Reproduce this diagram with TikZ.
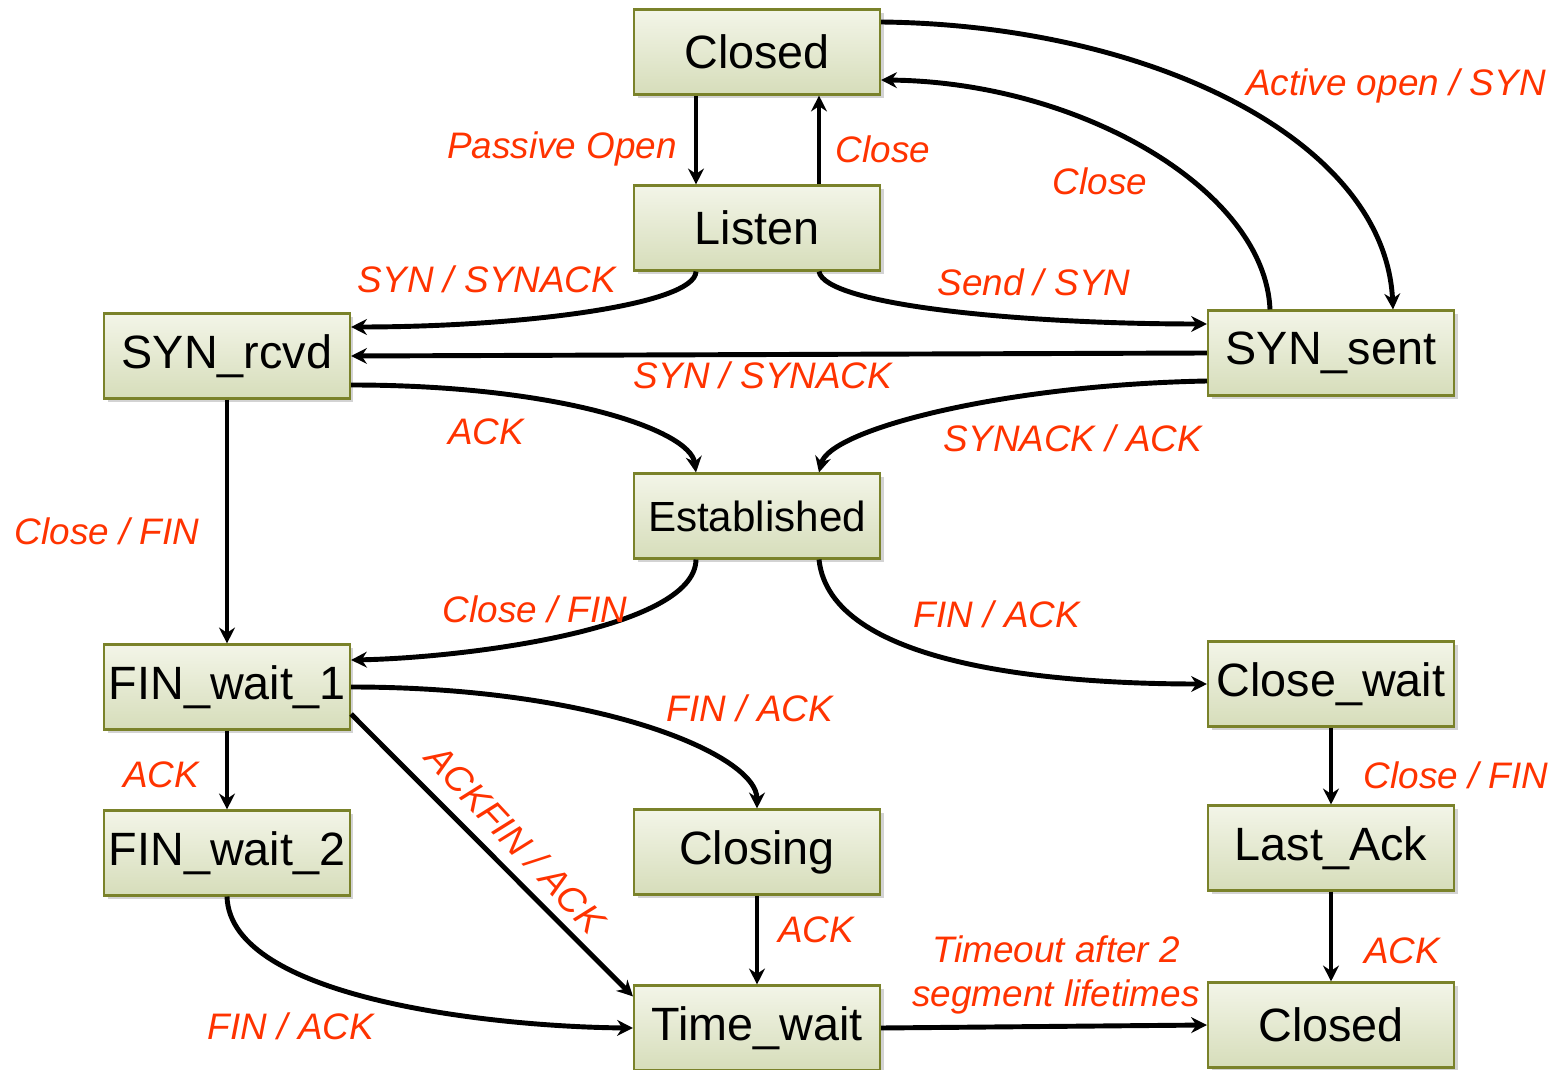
\documentclass[tikz,border=0pt]{standalone}
\usepackage{fontspec}
\setmainfont{Liberation Sans}
\usepackage{xcolor}
\usepackage{tikz}
\usetikzlibrary{arrows.meta}
\usetikzlibrary{shadows}
\usetikzlibrary{calc}

\definecolor{labred}{RGB}{255,51,0}
\definecolor{boxtop}{RGB}{243,245,232}
\definecolor{boxbot}{RGB}{214,221,186}
\definecolor{boxline}{RGB}{122,130,42}

\begin{document}
\begin{tikzpicture}[x=0.02cm, y=-0.02cm, >={Stealth[length=9pt, width=9pt]},
    state/.style={rectangle, draw=boxline, line width=1.2pt, top color=boxtop, bottom color=boxbot,
        drop shadow={shadow xshift=2pt, shadow yshift=-2pt, opacity=0.35},
        minimum width=4.92cm, minimum height=1.7cm, inner sep=0pt, font=\fontsize{26.6}{30}\selectfont},
    lab/.style={text=labred, font=\fontsize{21}{25}\selectfont\itshape, inner sep=0pt},
    edge/.style={line width=2.8pt, ->}]
    %\draw[step=100, gray, very thin] (0, 0) grid (1558, 1070);
    \useasboundingbox (0, 0) rectangle (1558, 1070);

    \node[state] (closed) at (757, 52) {Closed};
    \node[state] (listen) at (757, 228) {Listen};
    \node[state] (synrcvd) at (227, 356) {SYN\_rcvd};
    \node[state] (synsent) at (1331, 353) {SYN\_sent};
    \node[state, font=\fontsize{24}{28}\selectfont] (estab) at (757, 516) {Established};
    \node[state] (finwaita) at (227, 687) {FIN\_wait\_1};
    \node[state] (closewait) at (1331, 684) {Close\_wait};
    \node[state] (finwaitb) at (227, 853) {FIN\_wait\_2};
    \node[state] (closing) at (757, 852) {Closing};
    \node[state] (lastack) at (1331, 848) {Last\_Ack};
    \node[state] (timewait) at (757, 1028) {Time\_wait};
    \node[state] (closedb) at (1331, 1025) {Closed};

    \draw[edge] ($(closed.east)+(0,-30)$) .. controls (1150, 25) and (1385, 140) .. ($(synsent.north)+(62,0)$);
    \draw[edge] ($(synsent.north)+(-61,0)$) .. controls (1265, 190) and (1080, 82) .. ($(closed.east)+(0,28)$);
    \draw[edge] ($(closed.south)+(-61,0)$) -- ($(listen.north)+(-61,0)$);
    \draw[edge] ($(listen.north)+(62,0)$) -- ($(closed.south)+(62,0)$);

    \draw[edge] ($(listen.south)+(-61,0)$) .. controls (695, 305) and (520, 327) .. ($(synrcvd.east)+(0,-29)$);
    \draw[edge] ($(listen.south)+(62,0)$) .. controls (825, 305) and (1020, 324) .. ($(synsent.west)+(0,-29)$);
    \draw[edge] (synsent.west) -- (synrcvd.east);

    \draw[edge] ($(synrcvd.east)+(0,29)$) .. controls (560, 385) and (690, 430) .. ($(estab.north)+(-61,0)$);
    \draw[edge] ($(synsent.west)+(0,28)$) .. controls (1000, 385) and (830, 430) .. ($(estab.north)+(62,0)$);
    \draw[edge] (synrcvd.south) -- (finwaita.north);

    \draw[edge] ($(estab.south)+(-61,0)$) .. controls (695, 630) and (460, 658) .. ($(finwaita.east)+(0,-27)$);
    \draw[edge] ($(estab.south)+(62,0)$) .. controls (830, 665) and (1050, 684) .. (closewait.west);

    \draw[edge] (finwaita.east) .. controls (600, 687) and (757, 755) .. (closing.north);
    \draw[edge] ($(finwaita.east)+(0,27)$) -- ($(timewait.north west)+(0,12)$);
    \draw[edge] (finwaita.south) -- (finwaitb.north);
    \draw[edge] (finwaitb.south) .. controls (230, 1000) and (500, 1027) .. (timewait.west);
    \draw[edge] (closing.south) -- (timewait.north);
    \draw[edge] (closewait.south) -- (lastack.north);
    \draw[edge] (lastack.south) -- (closedb.north);
    \draw[edge] (timewait.east) -- (closedb.west);

    \node[lab] (l-active) at (1396, 86) {Active open / SYN};
    \node[lab] (l-closea) at (1100, 181) {Close};
    \node[lab] (l-passive) at (562, 149) {Passive Open};
    \node[lab] (l-closeb) at (883, 149) {Close};
    \node[lab] (l-synsa) at (487, 279) {SYN / SYNACK};
    \node[lab] (l-send) at (1034, 282) {Send / SYN};
    \node[lab] (l-synsb) at (763, 375) {SYN / SYNACK};
    \node[lab] (l-acka) at (486, 432) {ACK};
    \node[lab] (l-synack) at (1073, 438) {SYNACK / ACK};
    \node[lab] (l-closefa) at (107, 531) {Close / FIN};
    \node[lab] (l-closefb) at (535, 609) {Close / FIN};
    \node[lab] (l-fina) at (997, 614) {FIN / ACK};
    \node[lab] (l-finb) at (750, 708) {FIN / ACK};
    \node[lab, rotate=-47] (l-ackfin) at (516, 839) {ACKFIN / ACK};
    \node[lab] (l-ackb) at (161, 775) {ACK};
    \node[lab] (l-closefc) at (1456, 775) {Close / FIN};
    \node[lab] (l-ackc) at (816, 930) {ACK};
    \node[lab] (l-ackd) at (1402, 951) {ACK};
    \node[lab] (l-finc) at (291, 1026) {FIN / ACK};
    \node[lab, align=center] (l-timeout) at (1056, 975) {Timeout after 2\\segment lifetimes};

\end{tikzpicture}
\end{document}
